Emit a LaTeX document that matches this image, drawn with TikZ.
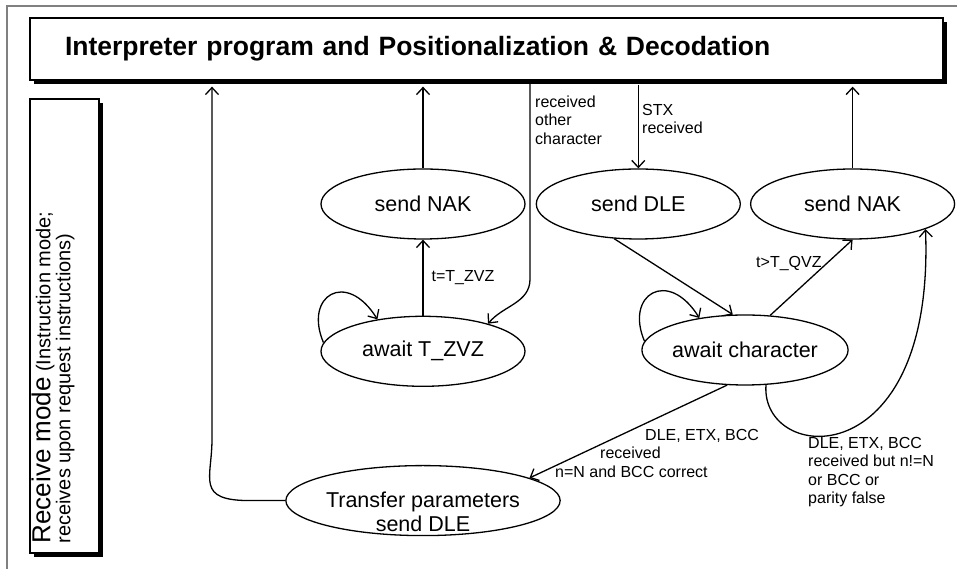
\documentclass[tikz,border=0pt]{standalone}
\usepackage{fontspec}
\setmainfont{Liberation Sans}
\usetikzlibrary{arrows.meta,positioning,shapes.geometric,shadows}
\tikzset{
  panel/.style={
    draw=black,
    line width=1.3pt,
    fill=white,
    drop shadow={shadow xshift=4pt, shadow yshift=-4pt, fill=black, opacity=1}
  },
  state/.style={
    ellipse,
    draw=black,
    line width=1.3pt,
    minimum width=204pt,
    minimum height=70pt,
    inner sep=0pt,
    align=center,
    font=\fontsize{21.5}{24}\selectfont
  },
  lbl/.style={
    inner sep=0pt,
    align=left,
    font=\fontsize{16}{18.5}\selectfont
  },
  arrow/.style={
    -{Straight Barb[length=7pt,width=13pt]},
    line width=1.3pt
  }
}

\begin{document}
\begin{tikzpicture}[x=1pt, y=1pt, node distance=10pt]
\useasboundingbox (0,0) rectangle (957,569);
\draw[gray, line width=1.5pt] (957,563) -- (7,563) -- (7,0);
% upper level and receive mode frame
\node[panel, minimum width=913pt, minimum height=62pt, text width=843pt, inner xsep=35pt, inner ysep=0pt, align=left, font=\bfseries\fontsize{26.5}{30}\selectfont] (top) at (486.5,520) {Interpreter program and Positionalization \& Decodation};
\node[panel, minimum width=69pt, minimum height=454pt, inner sep=0pt] (mode) at (64.5,243) {};
\node[rotate=90, anchor=north west, inner sep=0pt, align=left, font=\fontsize{20}{20}\selectfont] (modetext) at ([xshift=2pt,yshift=10pt]mode.south west) {{\fontsize{26}{20}\selectfont Receive mode} (Instruction mode;\\receives upon request instructions)};
% states
\node[state] (nakL) at (423,365) {send NAK};
\node[state, right=of nakL] (dle) {send DLE};
\node[state, right=9pt of dle] (nakR) {send NAK};
\node[state, below=76pt of nakL] (zvz) {await T\_ZVZ};
\node[state] (awc) at (745,219) {await character};
\node[state, below=78pt of zvz] (tp) {\raisebox{-19pt}[0pt][0pt]{\begin{tabular}{@{}c@{}}Transfer parameters\\send DLE\end{tabular}}};
% transitions
\draw[arrow, shorten >=6pt] (tp.west) -- ++(-35,0) .. controls +(-55,0) and +(0,-40) .. (212,130) -- (212,0 |- top.south);
\draw[arrow, shorten >=6pt] (nakL) -- (nakL |- top.south);
\draw[arrow, shorten >=6pt] (nakR) -- (nakR |- top.south);
\draw[arrow] (530,0 |- top.south) -- (530,290) to[out=-90,in=50] (zvz.23);
\node[lbl, anchor=north west] (rcvlbl) at (535,473.5) {received\\other\\character};
\draw[arrow, shorten <=4pt] (dle.north |- top.south) -- (dle);
\node[lbl, anchor=north west] (stxlbl) at (642,465) {STX\\received};
\draw[arrow] (zvz) -- (nakL) node[lbl, midway, right=8pt] {t=T\_ZVZ};
\draw[arrow] (zvz.175) .. controls +(-20,47) and +(-31,50) .. (zvz.145);
\draw[arrow] (awc.175) .. controls +(-20,47) and +(-31,50) .. (awc.145);
\draw[arrow] (dle.235) -- (awc.109);
\draw[arrow] (awc.54) -- (nakR.south) node[lbl, pos=.68, left=4pt] {t>T\_QVZ};
\draw[arrow] (awc.301) .. controls (760,105) and (935,90) .. (nakR.341);
\node[lbl, anchor=north west] (faillbl) at (808,132) {DLE, ETX, BCC\\received but n!=N\\or BCC or\\parity false};
\draw[arrow] (awc.243) -- (tp.12);
\node[lbl, anchor=north west] (oklbl) at (555,140) {\hspace*{90pt}DLE, ETX, BCC\\\hspace*{45pt}received\\n=N and BCC correct};
\end{tikzpicture}
\end{document}
